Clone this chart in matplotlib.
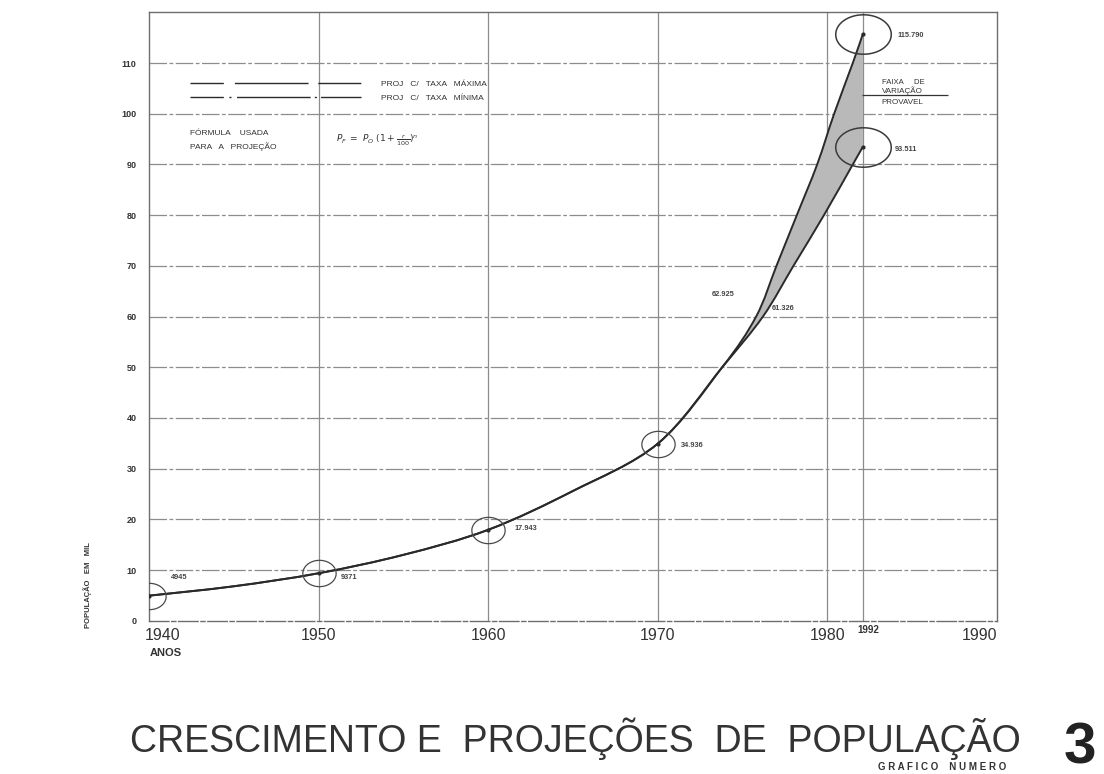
import matplotlib.pyplot as plt
from matplotlib.lines import Line2D
from matplotlib.path import Path
from matplotlib.patches import PathPatch
from matplotlib.transforms import ScaledTranslation
import numpy as np

plt.rcParams['font.family'] = ['Liberation Sans', 'DejaVu Sans']

# Curva única 1940-1973 (valores em mil habitantes)
anos_base = [1940, 1945, 1950, 1955, 1960, 1965, 1970, 1973.8]
pop_base = [4.945, 6.8, 9.371, 13.0, 17.943, 25.6, 34.936, 50.0]

# 1992 aparece desenhado logo após 1980 (fora de escala)
x_1992 = 1982.1

# Projeção com taxa máxima / mínima
anos_max = [1973.8, 1975.8, 1977.0, 1978.2, 1979.4, 1980.4, 1981.5, x_1992]
pop_max = [50.0, 60.0, 70.0, 80.0, 90.0, 100.0, 110.0, 115.790]
anos_min = [1973.8, 1976.2, 1978.0, 1979.8, 1981.5, x_1992]
pop_min = [50.0, 60.0, 70.0, 80.0, 90.0, 93.511]

# Pontos marcados com círculo
anos_censo = [1940, 1950, 1960, 1970]
pop_censo = [4.945, 9.371, 17.943, 34.936]
pop_1992 = [115.790, 93.511]

# Rótulos dos pontos
rotulos = ['4945', '9371', '17.943', '34.936', '62.925', '61.326', '115.790', '93.511']
rot_x = [1940, 1950, 1960, 1970, 1976.15, 1976.45, x_1992, x_1992]
rot_y = [4.945, 9.371, 17.943, 34.936, 62.925, 61.326, 115.790, 93.511]
rot_off = [(16, 13), (16, -3), (19, 1), (17, -1), (-20, 5), (3, 1), (25, -1), (23, -2)]
rot_ha = ['left', 'left', 'left', 'left', 'right', 'left', 'left', 'left']

anos_ticks = [1940, 1950, 1960, 1970, 1980, 1990]
pop_ticks = list(range(0, 111, 10))

cor = '#2a2a2a'
cor_grade = '#8c8c8c'


def segmentos(xs, ys):
    # curva suave que passa pelos pontos (bezier cúbica, estilo catmull-rom)
    p = np.column_stack([xs, ys])
    n = len(p)
    segs = []
    for i in range(n - 1):
        a, b, c, d = p[max(i - 1, 0)], p[i], p[i + 1], p[min(i + 2, n - 1)]
        segs.append((b, b + (c - a) / 6, c - (d - b) / 6, c))
    return segs


def caminho(segs, inicio=True):
    verts, codes = [], []
    if inicio:
        verts.append(segs[0][0])
        codes.append(Path.MOVETO)
    for s in segs:
        verts += [s[1], s[2], s[3]]
        codes += [Path.CURVE4] * 3
    return verts, codes


fig = plt.figure(figsize=(11.04, 7.74), dpi=100)
ax = fig.add_axes([0.135, 0.198, 0.768, 0.786])
ax.set_xlim(1940, 1990)
ax.set_ylim(0, 120)

# grade
for a in anos_ticks[1:-1] + [x_1992]:
    ax.axvline(a, color=cor_grade, lw=0.9, zorder=1)
for p in pop_ticks[1:]:
    ax.axhline(p, color=cor_grade, lw=0.9, ls=(0, (14, 2, 3, 2)), zorder=1)
for s in ax.spines.values():
    s.set_color('#6e6e6e')
    s.set_linewidth(1.0)
ax.spines['bottom'].set_linestyle((0, (14, 2, 3, 2)))

# curvas
seg_max = segmentos(anos_base + anos_max[1:], pop_base + pop_max[1:])
seg_min = segmentos(anos_base + anos_min[1:], pop_base + pop_min[1:])
for segs in (seg_max, seg_min):
    v, c = caminho(segs)
    ax.add_patch(PathPatch(Path(v, c), fill=False, ec=cor, lw=1.4, zorder=3))

# faixa de variação (entre as duas projeções)
k = len(anos_base) - 1
fx_max = seg_max[k:]
fx_min = [(s[3], s[2], s[1], s[0]) for s in seg_min[k:][::-1]]
v1, c1 = caminho(fx_max)
v2, c2 = caminho(fx_min, inicio=False)
verts = v1 + [fx_min[0][0]] + v2 + [fx_max[0][0]]
codes = c1 + [Path.LINETO] + c2 + [Path.CLOSEPOLY]
ax.add_patch(PathPatch(Path(verts, codes), fc='#b9b9b9', ec='none', zorder=2))

# círculos (elipses) em volta dos pontos
t = np.linspace(0, 2 * np.pi, 60)
elipse_p = Path(np.column_stack([np.cos(t), 0.79 * np.sin(t)]))
elipse_g = Path(np.column_stack([np.cos(t), 0.71 * np.sin(t)]))
ax.plot(anos_censo, pop_censo, ls='none', marker=elipse_p, ms=24,
        mfc='none', mec='#4a4a4a', mew=0.9, zorder=4)
ax.plot([x_1992, x_1992], pop_1992, ls='none', marker=elipse_g, ms=40,
        mfc='none', mec='#3a3a3a', mew=1.1, zorder=4)
ax.plot(anos_censo, pop_censo, ls='none', marker='o', ms=2, color=cor, zorder=4)
ax.plot([x_1992, x_1992], pop_1992, ls='none', marker='o', ms=2, color=cor, zorder=4)

for txt, x, y, off, ha in zip(rotulos, rot_x, rot_y, rot_off, rot_ha):
    ax.annotate(txt, (x, y), xytext=off, textcoords='offset points',
                fontsize=5.3, fontweight='bold', color='#444', ha=ha, va='center')

# eixos
ax.set_xticks(anos_ticks)
ax.set_xticklabels([str(a) for a in anos_ticks], fontsize=11.5, color='#333')
ax.set_yticks(pop_ticks)
ax.set_yticklabels([str(p) for p in pop_ticks], fontsize=6.5, fontweight='bold', color='#333')
ax.tick_params(length=0)
ax.tick_params(axis='y', pad=9)
ax.tick_params(axis='x', pad=5)
lbls = ax.get_xticklabels()
lbls[0].set_transform(lbls[0].get_transform() + ScaledTranslation(0.14, 0, fig.dpi_scale_trans))
lbls[-1].set_transform(lbls[-1].get_transform() + ScaledTranslation(-0.17, 0, fig.dpi_scale_trans))

ax.text(x_1992 + 0.3, -0.8, '1992', fontsize=7, fontweight='bold', color='#333',
        ha='center', va='top')
ax.text(1941.0, -5.3, 'ANOS', fontsize=8, fontweight='bold', color='#333', ha='center', va='top')
ax.text(-0.072, 0.059, 'POPULAÇÃO   EM   MIL', transform=ax.transAxes, rotation=90,
        fontsize=5.5, fontweight='bold', color='#333', ha='center', va='center')

# legenda
h_max = Line2D([], [], color=cor, lw=1, ls=(0, (24, 8, 53, 7, 31, 0.1)))
h_min = Line2D([], [], color=cor, lw=1, ls=(0, (24, 4, 1.5, 4, 53, 3, 1.5, 3, 31, 0.1)))
ax.legend([h_max, h_min], ['PROJ   C/   TAXA   MÁXIMA', 'PROJ   C/   TAXA   MÍNIMA'],
          loc='upper left', bbox_to_anchor=(0.048, 0.889), frameon=False,
          fontsize=6, handlelength=20.5, handletextpad=2.4, labelspacing=0.75,
          borderpad=0, borderaxespad=0, labelcolor='#333')

ax.text(1942.4, 94.7, 'FÓRMULA    USADA\nPARA   A   PROJEÇÃO', fontsize=6,
        color='#333', va='center', linespacing=1.7)
ax.text(1951.0, 94.9, r'$P_F\ =\ P_O\ (1 + \frac{r}{100})^n$', fontsize=6.5,
        color='#333', va='center')

ax.text(1983.2, 106.2, 'FAIXA     DE', fontsize=5.5, color='#333', va='center')
ax.text(1983.2, 104.6, 'VARIAÇÃO', fontsize=5.8, color='#333', va='center')
ax.hlines(103.7, 1982.05, 1987.1, color='#333', lw=0.9)
ax.text(1983.2, 102.2, 'PROVAVEL', fontsize=5.8, color='#333', va='center')

# título
fig.text(0.118, 0.028, 'CRESCIMENTO E  PROJEÇÕES  DE  POPULAÇÃO', fontsize=27,
         color='#333', va='baseline')
fig.text(0.795, 0.002, 'G R A F I C O    N U M E R O', fontsize=7,
         fontweight='bold', color='#333', va='bottom')
fig.text(0.993, 0.013, '3', fontsize=42, fontweight='bold', color='#222',
         ha='right', va='baseline')

fig.savefig('out.png', dpi=100, facecolor='white')
